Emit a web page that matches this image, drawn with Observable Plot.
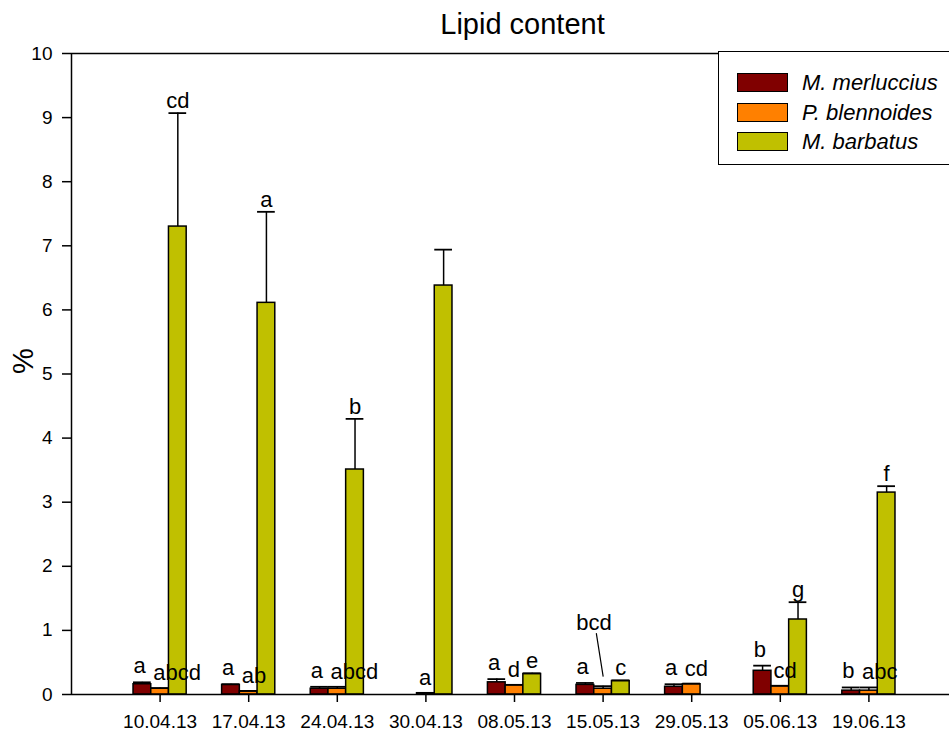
<!DOCTYPE html>
<html>
<head>
<meta charset="utf-8">
<script src="https://cdn.jsdelivr.net/npm/d3@7"></script>
<script src="https://cdn.jsdelivr.net/npm/@observablehq/plot@0.6"></script>
<style>
  body { margin: 0; background: white; }
  #wrap { position: relative; width: 949px; height: 736px; overflow: hidden; font-family: "Liberation Sans", Arial, sans-serif; }
  #legend { position: absolute; left: 718px; top: 51px; width: 240px; height: 114px; border: 1.5px solid #000; background: white; box-sizing: border-box; }
  .row { position: absolute; left: 18px; height: 19px; display: flex; align-items: center; }
  .sw { width: 49px; height: 17px; border: 1.5px solid #000; margin-right: 14px; }
  .lab { font-style: italic; font-size: 22px; white-space: nowrap; line-height: 19px; }
</style>
</head>
<body>
<div id="wrap"></div>
<script>
const dates = ["10.04.13","17.04.13","24.04.13","30.04.13","08.05.13","15.05.13","29.05.13","05.06.13","19.06.13"];
const species = ["M. merluccius","P. blennoides","M. barbatus"];
const colors = ["#800000","#ff8000","#c0c000"];

const merluccius    = [0.16, 0.15, 0.09, null, 0.19, 0.15, 0.12, 0.37, 0.06];
const merlucciusErr = [0.03, 0.01, 0.03, null, 0.05, 0.03, 0.04, 0.08, 0.05];
const merlucciusLet = ["a","a","a",null,"a","a","a","b","b"];

const blennoides    = [0.09, 0.05, 0.09, 0.02, 0.145, 0.09, 0.16, 0.13, 0.06];
const blennoidesErr = [0.01, 0.005, 0.03, 0.005, 0.005, 0.04, 0.01, 0.005, 0.05];
const blennoidesLet = ["abcd","ab","abcd","a","d","bcd","cd","cd","abc"];

const barbatus    = [7.30, 6.11, 3.51, 6.38, 0.32, 0.21, null, 1.17, 3.15];
const barbatusErr = [1.77, 1.42, 0.79, 0.56, 0.01, 0.01, null, 0.27, 0.10];
const barbatusLet = ["cd","a","b",null,"e","c",null,"g","f"];

const yTicks = [0,1,2,3,4,5,6,7,8,9,10];
const raised = [{date: "15.05.13", species: "P. blennoides"}];

const series = [
  [merluccius, merlucciusErr, merlucciusLet],
  [blennoides, blennoidesErr, blennoidesLet],
  [barbatus, barbatusErr, barbatusLet]
];
const barW = 0.2;
const rows = [];
series.forEach(([vals, errs, lets], j) => {
  vals.forEach((v, i) => {
    if (v == null) return;
    const x1 = (i + 1) - 1.5 * barW + j * barW;
    rows.push({i, j, date: dates[i], species: species[j], value: v, err: errs[i] || 0,
      top: v + (errs[i] || 0), letter: lets[i], x1, x2: x1 + barW, xc: x1 + barW / 2,
      raised: raised.some(r => r.date === dates[i] && r.species === species[j])});
  });
});
const labelsMerl = rows.filter(d => d.letter && d.j === 0 && !d.raised);
const labelsBlen = rows.filter(d => d.letter && d.j === 1 && !d.raised);
const labelsMid = rows.filter(d => d.letter && d.j === 2);
const labelsRaised = rows.filter(d => d.raised);

const font = "'Liberation Sans', Arial, sans-serif";
const chart = Plot.plot({
  width: 949, height: 736,
  marginLeft: 71, marginRight: 0, marginTop: 53, marginBottom: 42,
  style: {fontFamily: font, background: "white", color: "black", overflow: "visible"},
  x: {type: "linear", domain: [0, 10], range: [71, 957]},
  y: {domain: [0, 10]},
  marks: [
    Plot.ruleY([10], {stroke: "black", strokeWidth: 1.5}),
    Plot.rect(rows, {x1: "x1", x2: "x2", y1: 0, y2: "value", fill: d => colors[d.j], stroke: "black", strokeWidth: 1.5}),
    Plot.ruleX(rows.filter(d => d.err > 0), {x: "xc", y1: "value", y2: "top", stroke: "black", strokeWidth: 1.5}),
    Plot.ruleY(rows.filter(d => d.err > 0), {y: "top", x1: "x1", x2: "x2", stroke: "black", strokeWidth: 1.8}),
    Plot.ruleY([0], {stroke: "black", strokeWidth: 1.5}),
    Plot.ruleX([0], {stroke: "black", strokeWidth: 1.5}),
    Plot.axisX({ticks: dates.map((d, k) => k + 1), tickFormat: k => dates[k - 1], tickSize: 8, tickPadding: 12, fontSize: 19, label: null, strokeWidth: 1.5}),
    Plot.axisY({ticks: yTicks, tickSize: 9, tickPadding: 10, fontSize: 19, label: null, strokeWidth: 1.5}),
    Plot.text(labelsMerl, {x: "x1", y: "top", text: "letter", textAnchor: "start", lineAnchor: "bottom", dx: 0, dy: -9, fontSize: 22, fill: "black"}),
    Plot.text(labelsBlen, {x: "x1", y: "top", text: "letter", textAnchor: "start", lineAnchor: "bottom", dx: 2, dy: -8, fontSize: 22, fill: "black"}),
    Plot.text(labelsMid, {x: "xc", y: "top", text: "letter", textAnchor: "middle", lineAnchor: "bottom", dy: -5, fontSize: 22, fill: "black"}),
    Plot.text(labelsRaised, {x: "xc", y: "top", text: "letter", textAnchor: "middle", lineAnchor: "bottom", dx: -9, dy: -56, fontSize: 22, fill: "black"}),
    Plot.vector(labelsRaised, {x: "xc", y: "top", length: 43, rotate: -9, anchor: "start", shape: "spike", r: 0, dy: -10, stroke: "black", strokeWidth: 1.2}),
    Plot.text(["Lipid content"], {frameAnchor: "top", text: d => d, dx: 12, dy: -20, lineAnchor: "bottom", fontSize: 29, fill: "black"}),
    Plot.text(["%"], {frameAnchor: "left", text: d => d, dx: -48, rotate: -90, fontSize: 29, fill: "black"})
  ]
});
const wrap = document.getElementById("wrap");
wrap.appendChild(chart);

const legend = document.createElement("div");
legend.id = "legend";
species.forEach((s, j) => {
  const row = document.createElement("div");
  row.className = "row";
  row.style.top = (21 + j * 29.5) + "px";
  row.innerHTML = `<div class="sw" style="background:${colors[j]}"></div><span class="lab">${s}</span>`;
  legend.appendChild(row);
});
wrap.appendChild(legend);
</script>
</body>
</html>
